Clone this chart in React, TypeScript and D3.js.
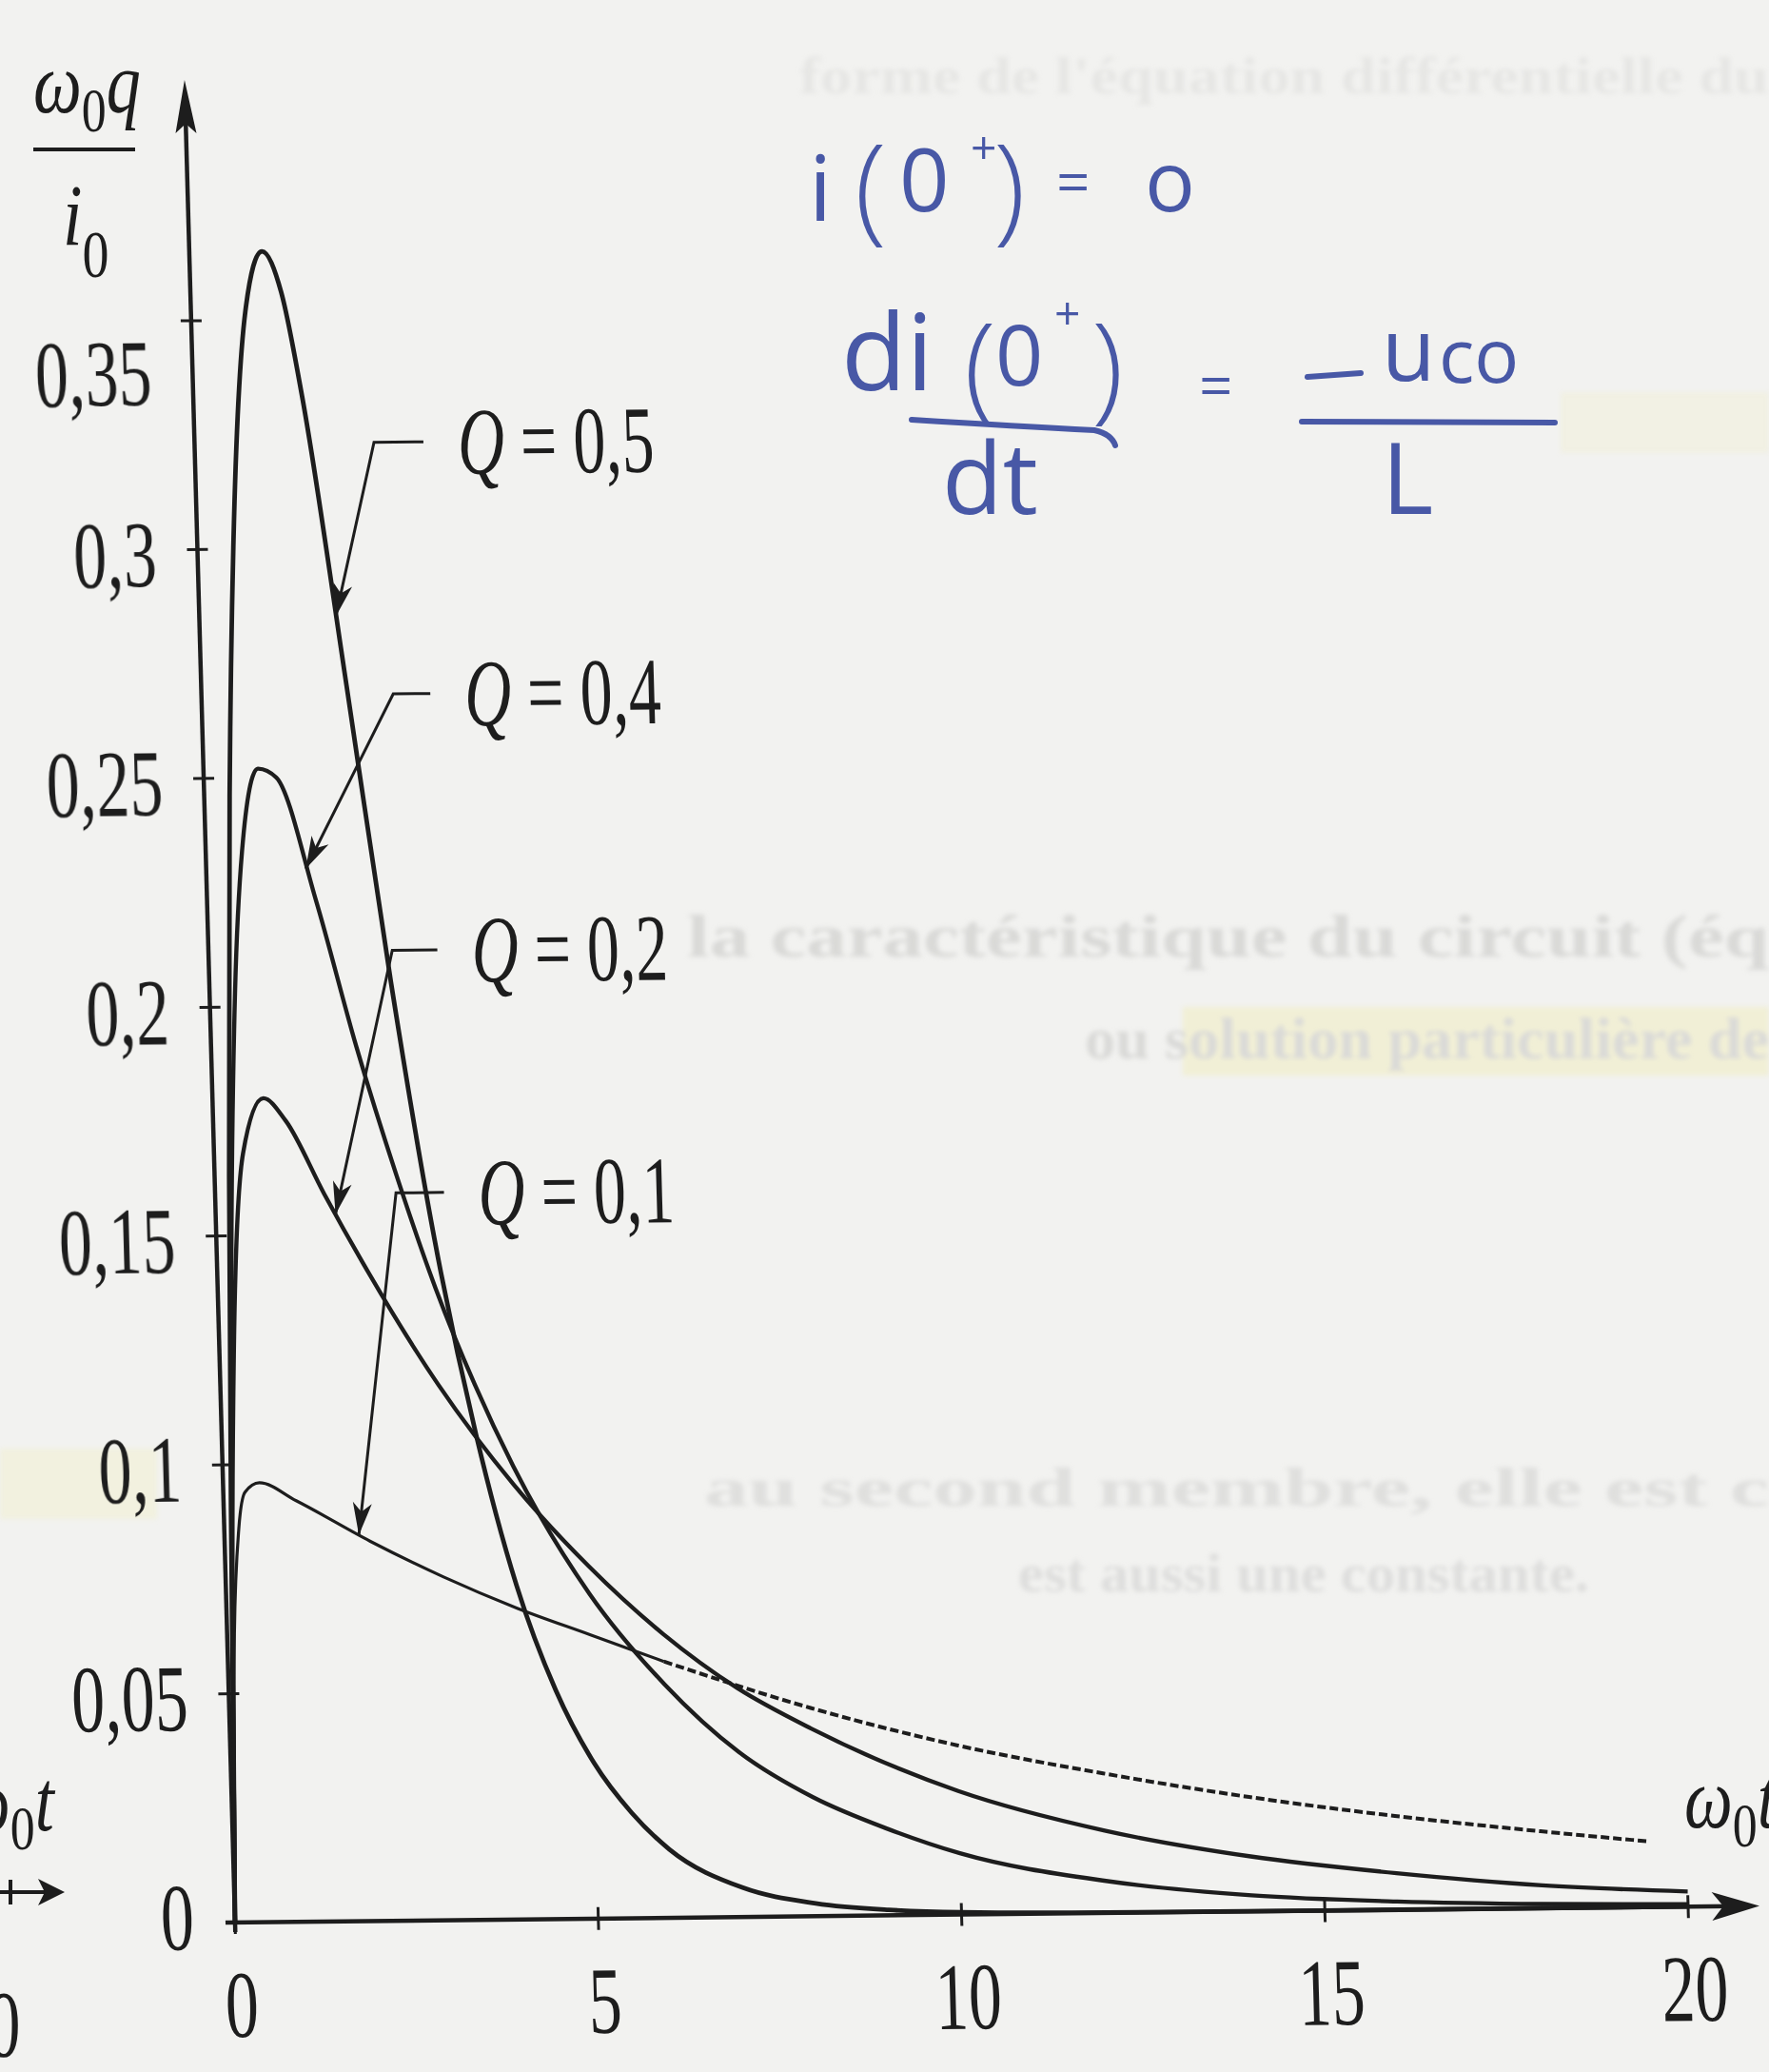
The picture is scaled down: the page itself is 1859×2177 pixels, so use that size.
import * as d3 from 'd3';

// Curves: x = ω0·t, y = ω0·q / i0
const seriesNames = ['Q = 0,5', 'Q = 0,4', 'Q = 0,2', 'Q = 0,1'];

const tQ05 = [0, 0.1, 0.2, 0.35, 0.5, 0.75, 1, 1.25, 1.5, 2, 2.5, 3, 3.5, 4, 4.5, 5, 5.5, 6, 7, 8, 9, 10, 12, 15, 20];
const vQ05 = [0, 0.09, 0.163, 0.246, 0.302, 0.352, 0.365, 0.356, 0.333, 0.27, 0.205, 0.149, 0.106, 0.073, 0.05, 0.034, 0.023, 0.015, 0.0064, 0.0028, 0.0012, 0.0005, 0.0001, 0, 0];

const tQ04 = [0, 0.1, 0.2, 0.35, 0.5, 0.75, 1, 1.5, 2, 2.5, 3, 3.5, 4, 5, 6, 7, 8, 9, 10, 12, 14, 16, 18, 20];
const vQ04 = [0, 0.085, 0.145, 0.203, 0.234, 0.252, 0.25, 0.223, 0.191, 0.163, 0.138, 0.117, 0.099, 0.071, 0.051, 0.036, 0.026, 0.019, 0.0134, 0.007, 0.0035, 0.0018, 0.0009, 0.0005];

const tQ02 = [0, 0.1, 0.2, 0.4, 0.7, 1, 1.5, 2, 3, 4, 5, 6, 7, 8, 10, 12, 14, 16, 18, 20];
const vQ02 = [0, 0.078, 0.125, 0.168, 0.18, 0.175, 0.159, 0.144, 0.117, 0.095, 0.077, 0.062, 0.05, 0.041, 0.027, 0.018, 0.012, 0.008, 0.005, 0.0033];

const tQ01 = [0, 0.05, 0.1, 0.2, 0.3, 0.5, 1, 2, 3, 4, 5, 6, 8, 10, 12, 14, 16, 18, 19.5];
const vQ01 = [0, 0.039, 0.063, 0.086, 0.094, 0.096, 0.092, 0.083, 0.075, 0.068, 0.062, 0.056, 0.0455, 0.037, 0.0305, 0.025, 0.0205, 0.0168, 0.0143];

const xTicks = [0, 5, 10, 15, 20];
const xTickLabels = ['0', '5', '10', '15', '20'];
const yTicks = [0, 0.05, 0.1, 0.15, 0.2, 0.25, 0.3, 0.35];
const yTickLabels = ['0', '0,05', '0,1', '0,15', '0,2', '0,25', '0,3', '0,35'];

// where each label's leader arrow lands on its curve (ω0·t)
const arrowT = [1.88, 1.37, 1.65, 1.85];

// ---- layout ----
const W = 1859;
const H = 2177;
const INK = '#1d1d1d';
const BLUE = '#4858a6';
const SERIF = "'Liberation Serif', 'Times New Roman', serif";
const HAND = "'Open Sans', 'DejaVu Sans', sans-serif";
const ORIGIN = [247, 2020];
// the photo is a little sheared: y axis leans left at the top, x axis rises to the right
const SHEAR_X = 0.0274;
const SHEAR_Y = -0.011;

const leaderElbowT = [2.47, 2.64, 2.53, 2.49];
const leaderV = [0.323, 0.268, 0.212, 0.159];
const leaderEndT = 3.15;
const labelT = 3.62;

const x = d3.scaleLinear().domain([0, 20]).range([0, 1527]);
const y = d3.scaleLinear().domain([0, 0.35]).range([0, -1683]);

const zip = (ts: number[], vs: number[]) => ts.map((t, i) => [t, vs[i]] as [number, number]);
const series = [zip(tQ05, vQ05), zip(tQ04, vQ04), zip(tQ02, vQ02), zip(tQ01, vQ01)];
const widths = [4.8, 4.4, 4.4, 3.2];

const line = d3
  .line<[number, number]>()
  .x(d => x(d[0]))
  .y(d => y(d[1]))
  .curve(d3.curveMonotoneX);

function valueAt(pts: [number, number][], t: number) {
  const i = d3.bisector((d: [number, number]) => d[0]).left(pts, t);
  if (i <= 0) return pts[0][1];
  const [t0, v0] = pts[i - 1];
  const [t1, v1] = pts[i];
  return v0 + ((t - t0) / (t1 - t0)) * (v1 - v0);
}

function Txt({ x, y, size, sx = 0.7, anchor = 'start', italic = false, fill = INK, family = SERIF, children }: any) {
  return (
    <g transform={`translate(${x},${y}) scale(${sx},1)`}>
      <text fontSize={size} textAnchor={anchor} fontFamily={family} fontStyle={italic ? 'italic' : 'normal'} fill={fill}>
        {children}
      </text>
    </g>
  );
}

function arrowHead(ex: number, ey: number, tx: number, ty: number, L = 34, w = 10) {
  const a = Math.atan2(ty - ey, tx - ex);
  const c = Math.cos(a);
  const s = Math.sin(a);
  const bx = tx - L * c;
  const by = ty - L * s;
  const nx = tx - 0.72 * L * c;
  const ny = ty - 0.72 * L * s;
  return `M${tx},${ty} L${bx - w * s},${by + w * c} L${nx},${ny} L${bx + w * s},${by - w * c} Z`;
}

function Omega0({ x0, y0, size, last }: any) {
  return (
    <Txt x={x0} y={y0} size={size} sx={0.8} italic>
      ω
      <tspan fontSize={size * 0.72} dy={size * 0.22} fontStyle="normal">0</tspan>
      <tspan dy={-size * 0.22}>{last}</tspan>
    </Txt>
  );
}

export default function App() {
  const q01Solid = series[3].filter(d => d[0] <= 6);
  const q01Dashed = series[3].filter(d => d[0] >= 6);

  return (
    <svg
      width={W}
      height={H}
      viewBox={`0 0 ${W} ${H}`}
      style={{ position: 'absolute', left: 0, top: 0, background: '#f2f2f0' }}
    >
      <defs>
        <filter id="soft" x="-5%" y="-50%" width="110%" height="200%">
          <feGaussianBlur stdDeviation="2.5" />
        </filter>
      </defs>
      <rect x={0} y={0} width={W} height={H} fill="#f2f2f0" />

      {/* faint highlight and show-through from the other side of the page */}
      <g filter="url(#soft)">
        <rect x={1243} y={1058} width={616} height={72} fill="#f1eecb" opacity={0.7} />
        <rect x={0} y={1522} width={165} height={74} fill="#f2f0d4" opacity={0.6} />
        <rect x={1640} y={412} width={219} height={64} fill="#f2f0d8" opacity={0.5} />
        <g fontFamily={SERIF} fontWeight="bold" fill="#d9d9d7">
          <text x={722} y={1005} fontSize={64} textLength={1137} lengthAdjust="spacingAndGlyphs">
            la caractéristique du circuit (éq
          </text>
          <text x={1140} y={1112} fontSize={62} textLength={719} lengthAdjust="spacingAndGlyphs">
            ou solution particulière de
          </text>
          <text x={740} y={1582} fontSize={58} textLength={1119} lengthAdjust="spacingAndGlyphs" opacity={0.75}>
            au second membre, elle est c
          </text>
          <text x={1070} y={1672} fontSize={56} textLength={600} lengthAdjust="spacingAndGlyphs" opacity={0.8}>
            est aussi une constante.
          </text>
          <text x={840} y={98} fontSize={54} textLength={1019} lengthAdjust="spacingAndGlyphs" opacity={0.45}>
            forme de l'équation différentielle du
          </text>
        </g>
      </g>

      {/* y-axis title: ω0 q / i0 */}
      <Omega0 x0={35} y0={118} size={90} last="q" />
      <line x1={35} y1={157} x2={142} y2={157} stroke={INK} strokeWidth={4} />
      <Txt x={66} y={257} size={92} sx={0.8} italic>
        i<tspan fontSize={70} dy={34} fontStyle="normal">0</tspan>
      </Txt>

      {/* x-axis title, cut by the right edge */}
      <Omega0 x0={1770} y0={1920} size={90} last="t" />

      {/* pieces of the neighbouring figure cut by the left edge */}
      <Omega0 x0={-40} y0={1923} size={90} last="t" />
      <line x1={0} y1={1988} x2={56} y2={1988} stroke={INK} strokeWidth={4} />
      <line x1={11} y1={1975} x2={11} y2={2001} stroke={INK} strokeWidth={4} />
      <path d="M68,1988 L40,1974 L47,1988 L40,2002 Z" fill={INK} />
      <Txt x={4} y={2160} size={100} anchor="middle">0</Txt>

      {/* plot, sheared like the photo */}
      <g transform={`translate(${ORIGIN[0]},${ORIGIN[1]}) matrix(1,${SHEAR_Y},${SHEAR_X},1,0,0)`}>
        {/* axes */}
        <line x1={-10} y1={0} x2={1575} y2={0} stroke={INK} strokeWidth={4.5} />
        <path d="M1602,0 L1552,-15 L1564,0 L1552,15 Z" fill={INK} />
        <line x1={0} y1={10} x2={0} y2={-1900} stroke={INK} strokeWidth={4.5} />
        <path d="M0,-1936 L-11,-1880 L0,-1890 L11,-1880 Z" fill={INK} />

        {xTicks.map((t, i) => (
          <g key={`xt${i}`}>
            <line x1={x(t)} y1={-12} x2={x(t)} y2={12} stroke={INK} strokeWidth={3} />
            <Txt x={x(t) + 5} y={120} size={100} anchor="middle">
              {xTickLabels[i]}
            </Txt>
          </g>
        ))}

        {yTicks.map((v, i) => (
          <g key={`yt${i}`}>
            {v > 0 && <line x1={-11} y1={y(v)} x2={11} y2={y(v)} stroke={INK} strokeWidth={3} />}
            <Txt x={-43} y={y(v) + (v === 0.35 ? 88 : v === 0 ? 28 : 38)} size={100} anchor="end">
              {yTickLabels[i]}
            </Txt>
          </g>
        ))}

        {/* curves */}
        {series.slice(0, 3).map((pts, i) => (
          <path key={`c${i}`} d={line(pts) ?? ''} fill="none" stroke={INK} strokeWidth={widths[i]} strokeLinejoin="round" />
        ))}
        <path d={line(q01Solid) ?? ''} fill="none" stroke={INK} strokeWidth={widths[3]} />
        <path d={line(q01Dashed) ?? ''} fill="none" stroke={INK} strokeWidth={4} strokeDasharray="9 4" />

        {/* labels with leader arrows */}
        {seriesNames.map((name, i) => {
          const ex = x(leaderElbowT[i]);
          const ey = y(leaderV[i]);
          const tx = x(arrowT[i]);
          const ty = y(valueAt(series[i], arrowT[i]));
          return (
            <g key={`l${i}`}>
              <polyline
                points={`${x(leaderEndT)},${ey} ${ex},${ey} ${tx},${ty}`}
                fill="none"
                stroke={INK}
                strokeWidth={3}
              />
              <path d={arrowHead(ex, ey, tx, ty)} fill={INK} />
              <Txt x={x(labelT)} y={ey + 34} size={100} sx={0.68}>
                <tspan fontStyle="italic">Q</tspan>
                {name.slice(1)}
              </Txt>
            </g>
          );
        })}
      </g>

      {/* handwritten notes in blue ink */}
      <g fill={BLUE} fontFamily={HAND}>
        <text x={850} y={232} fontSize={96}>i</text>
        <text x={898} y={240} fontSize={124} fontWeight={300}>(</text>
        <text x={945} y={222} fontSize={92}>0</text>
        <text x={1020} y={172} fontSize={48}>+</text>
        <text x={1044} y={240} fontSize={124} fontWeight={300}>)</text>
        <text x={1110} y={214} fontSize={62}>=</text>
        <text x={1203} y={222} fontSize={88}>o</text>

        <text x={884} y={410} fontSize={112}>di</text>
        <text x={1013} y={428} fontSize={124} fontWeight={300}>(</text>
        <text x={1046} y={405} fontSize={88}>0</text>
        <text x={1108} y={346} fontSize={48}>+</text>
        <text x={1147} y={428} fontSize={124} fontWeight={300}>)</text>
        <text x={990} y={540} fontSize={104}>dt</text>
        <text x={1260} y={428} fontSize={62}>=</text>
        <text x={1452} y={400} fontSize={92}>u</text>
        <text x={1512} y={402} fontSize={78}>co</text>
        <text x={1452} y={540} fontSize={104}>L</text>
      </g>
      <g fill="none" stroke={BLUE} strokeWidth={6} strokeLinecap="round">
        <path d="M958,441 Q1070,448 1150,452 Q1168,456 1172,468" />
        <path d="M1374,396 L1430,392" />
        <path d="M1368,443 L1634,444" />
      </g>
    </svg>
  );
}
